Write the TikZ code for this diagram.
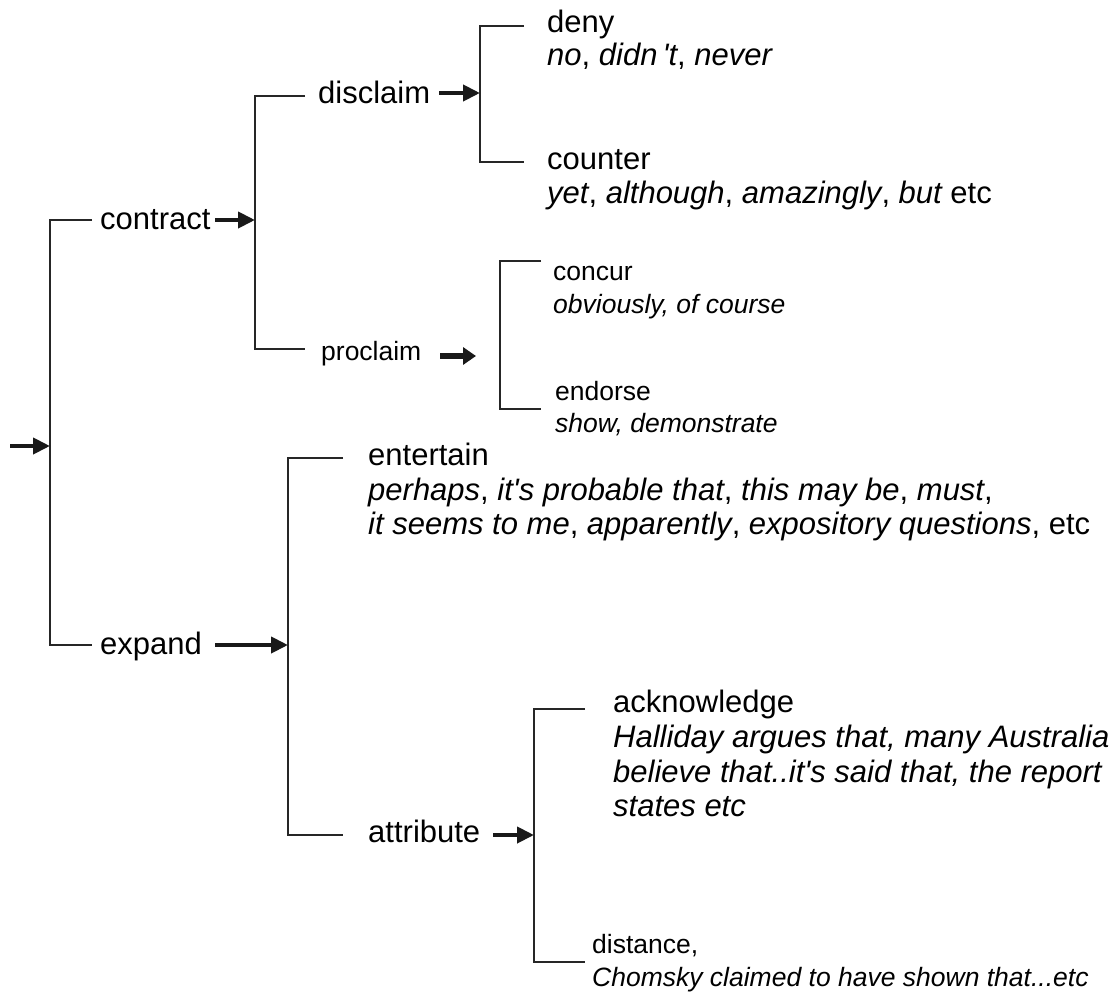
\documentclass[tikz,border=0pt]{standalone}
\usepackage{fontspec}
\setmainfont{Liberation Sans}
\usetikzlibrary{arrows.meta}
\tikzset{
  br/.style={line width=1.5pt, draw=black!85},
  arr/.style={line width=4pt, draw=black!90, -{Triangle[length=17pt,width=16pt]}},
  fatarr/.style={line width=6.5pt, draw=black!90, -{Triangle[length=13pt,width=17pt]}},
  big/.style={inner sep=0pt, anchor=base west, font=\fontsize{31}{34}\selectfont},
  small/.style={inner sep=0pt, anchor=base west, font=\fontsize{26.5}{32}\selectfont},
}
\newcommand{\apos}{\textquotesingle}
\begin{document}
\begin{tikzpicture}[x=1pt,y=-1pt]
\useasboundingbox (0,0) rectangle (1115,995);
% coordinates
\coordinate (in) at (10,446);
\coordinate (b1) at (50,446);
\coordinate (b1t) at (50,220); \coordinate (b1te) at (92,220);
\coordinate (b1b) at (50,645); \coordinate (b1be) at (92,645);
\coordinate (ca) at (215,220);
\coordinate (b2) at (255,220);
\coordinate (b2t) at (255,96); \coordinate (b2te) at (305,96);
\coordinate (b2b) at (255,349); \coordinate (b2be) at (305,349);
\coordinate (da) at (439,93);
\coordinate (b3) at (480,93);
\coordinate (b3t) at (480,26); \coordinate (b3te) at (524,26);
\coordinate (b3b) at (480,162); \coordinate (b3be) at (524,162);
\coordinate (pa) at (440,356);
\coordinate (pe) at (476,356);
\coordinate (b4t) at (500,261); \coordinate (b4te) at (541,261);
\coordinate (b4b) at (500,409); \coordinate (b4be) at (541,409);
\coordinate (ea) at (215,645);
\coordinate (b5) at (288,645);
\coordinate (b5t) at (288,458); \coordinate (b5te) at (343,458);
\coordinate (b5b) at (288,835); \coordinate (b5be) at (343,835);
\coordinate (aa) at (493,835);
\coordinate (b6) at (534,835);
\coordinate (b6t) at (534,709); \coordinate (b6te) at (585,709);
\coordinate (b6b) at (534,962); \coordinate (b6be) at (585,962);
% brackets
\draw[br] (b1te) -- (b1t) -- (b1b) -- (b1be);
\draw[br] (b2te) -- (b2t) -- (b2b) -- (b2be);
\draw[br] (b3te) -- (b3t) -- (b3b) -- (b3be);
\draw[br] (b4te) -- (b4t) -- (b4b) -- (b4be);
\draw[br] (b5te) -- (b5t) -- (b5b) -- (b5be);
\draw[br] (b6te) -- (b6t) -- (b6b) -- (b6be);
% labels
\node[big] (contract) at (100,229) {contract};
\node[big] (disclaim) at (318,104) {disclaim};
\node[big] (deny) at (547,33) {deny};
\node[big] (denyex) at (547,66) {\itshape no\upshape, \itshape didn\,\apos t\upshape, \itshape never};
\node[big] (counter) at (547,169) {counter};
\node[big] (counterex) at (547,203) {\itshape yet\upshape, \itshape although\upshape, \itshape amazingly\upshape, \itshape but\upshape\ etc};
\node[small] (proclaim) at (321,360) {proclaim};
\node[small] (concur) at (553,280) {concur};
\node[small] (concurex) at (553,313) {\itshape obviously, of course};
\node[small] (endorse) at (555,400) {endorse};
\node[small] (endorseex) at (555,432) {\itshape show, demonstrate};
\node[big] (expand) at (100,654) {expand};
\node[big] (entertain) at (368,465) {entertain};
\node[big] (entex1) at (368,500) {\itshape perhaps\upshape, \itshape it\apos s probable that\upshape, \itshape this may be\upshape, \itshape must\upshape,};
\node[big] (entex2) at (368,534) {\itshape it seems to me\upshape, \itshape apparently\upshape, \itshape expository questions\upshape, etc};
\node[big] (attribute) at (368,842) {attribute};
\node[big] (ack) at (613,712) {acknowledge};
\node[big] (ackex1) at (613,747) {\itshape Halliday argues that, many Australia};
\node[big] (ackex2) at (613,782) {\itshape believe that..it\apos s said that, the report};
\node[big] (ackex3) at (613,816) {\itshape states etc};
\node[small] (distance) at (592,953) {distance,};
\node[small] (distex) at (592,986) {\itshape Chomsky claimed to have shown that...etc};
% arrows
\draw[arr] (in) -- (b1);
\draw[arr] (ca) -- (b2);
\draw[arr] (da) -- (b3);
\draw[fatarr] (pa) -- (pe);
\draw[arr] (ea) -- (b5);
\draw[arr] (aa) -- (b6);
\end{tikzpicture}
\end{document}
